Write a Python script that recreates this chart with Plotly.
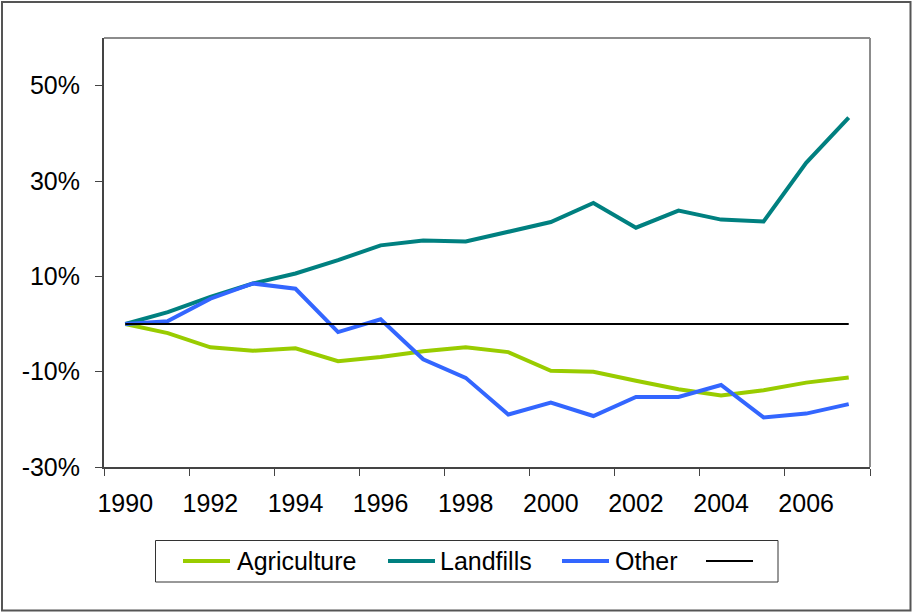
import plotly.graph_objects as go

years = list(range(1990, 2008))
agriculture = [0, -1.9, -4.9, -5.6, -5.1, -7.8, -6.9, -5.7, -4.9, -5.9, -9.8, -10.0, -11.9, -13.7, -15.0, -13.9, -12.3, -11.2]
landfills = [0, 2.5, 5.7, 8.5, 10.6, 13.4, 16.5, 17.5, 17.3, 19.3, 21.4, 25.4, 20.2, 23.8, 21.9, 21.5, 33.8, 43.3]
other = [0, 0.6, 5.3, 8.5, 7.4, -1.7, 1.0, -7.4, -11.3, -19.0, -16.5, -19.3, -15.3, -15.3, -12.8, -19.6, -18.8, -16.8]
baseline = [0] * len(years)

series_names = ["Agriculture", "Landfills", "Other", ""]
series_colors = ["#99CC00", "#008080", "#3366FF", "#000000"]
series_widths = [4, 4, 4, 2]

y_ticks = [-30, -10, 10, 30, 50]
y_ticktext = ["-30%", "-10%", "10%", "30%", "50%"]
x_label_years = list(range(1990, 2007, 2))
x_tick_bounds = [y - 0.5 for y in range(1990, 2009, 2)]

FONT = "Liberation Sans, Arial, sans-serif"

# plot area in pixels
L, R, T, B = 104, 870, 38, 467
PW, PH = R - L, B - T


def px(x):
    return (x - L) / PW


def py(y):
    return (B - y) / PH


fig = go.Figure()
for name, vals, col, w in zip(series_names, [agriculture, landfills, other, baseline],
                              series_colors, series_widths):
    fig.add_trace(go.Scatter(x=years, y=vals, mode="lines", name=name, showlegend=False,
                             line=dict(color=col, width=w)))

shapes = [
    dict(type="line", xref="paper", yref="paper", x0=0, x1=1, y0=1, y1=1,
         line=dict(color="#8c8c8c", width=2)),
    dict(type="line", xref="paper", yref="paper", x0=1, x1=1, y0=0, y1=1,
         line=dict(color="#8c8c8c", width=2)),
    dict(type="rect", xref="paper", yref="paper",
         x0=px(2), x1=px(910.5), y0=py(610.5), y1=py(2),
         line=dict(color="#555555", width=2), layer="below"),
    # legend box
    dict(type="rect", xref="paper", yref="paper",
         x0=px(155.5), x1=px(778), y0=py(582), y1=py(540.5),
         line=dict(color="#333333", width=1), fillcolor="white"),
]
annotations = []
legend_line_x = [183, 388, 562, 706]
legend_text_x = [235, 438, 613, None]
ly = 561
for name, col, w, lx, tx in zip(series_names, series_colors, series_widths,
                                legend_line_x, legend_text_x):
    shapes.append(dict(type="line", xref="paper", yref="paper",
                       x0=px(lx), x1=px(lx + 47), y0=py(ly), y1=py(ly),
                       line=dict(color=col, width=w)))
    if tx is not None and name:
        annotations.append(dict(text=name, xref="paper", yref="paper",
                                x=px(tx), y=py(ly), xanchor="left", yanchor="middle",
                                showarrow=False, font=dict(family=FONT, size=25, color="black")))

fig.update_layout(
    width=912, height=613,
    margin=dict(l=L, r=912 - R, t=T, b=613 - B),
    paper_bgcolor="white", plot_bgcolor="white",
    font=dict(family=FONT, size=25, color="black"),
    showlegend=False,
    xaxis=dict(range=[1989.5, 2007.5], showgrid=False, zeroline=False,
               tickmode="array", tickvals=x_label_years, ticktext=[str(y) for y in x_label_years],
               ticks="", showline=True, linecolor="#444444", linewidth=2,
               ticklabelstandoff=13,
               minor=dict(tickmode="array", tickvals=x_tick_bounds, ticks="outside", ticklen=7,
                          tickcolor="#444444", tickwidth=1, showgrid=False),
               tickfont=dict(size=25)),
    yaxis=dict(range=[-30, 60], showgrid=False, zeroline=False,
               tickmode="array", tickvals=y_ticks, ticktext=y_ticktext,
               ticks="outside", ticklen=7, tickcolor="#444444", tickwidth=1,
               showline=True, linecolor="#444444", linewidth=2,
               ticklabelstandoff=10,
               tickfont=dict(size=25)),
    shapes=shapes,
    annotations=annotations,
)

fig.write_html("out.html", config={"displayModeBar": False},
               post_script="document.body.style.margin='0';document.body.style.overflow='hidden';")
